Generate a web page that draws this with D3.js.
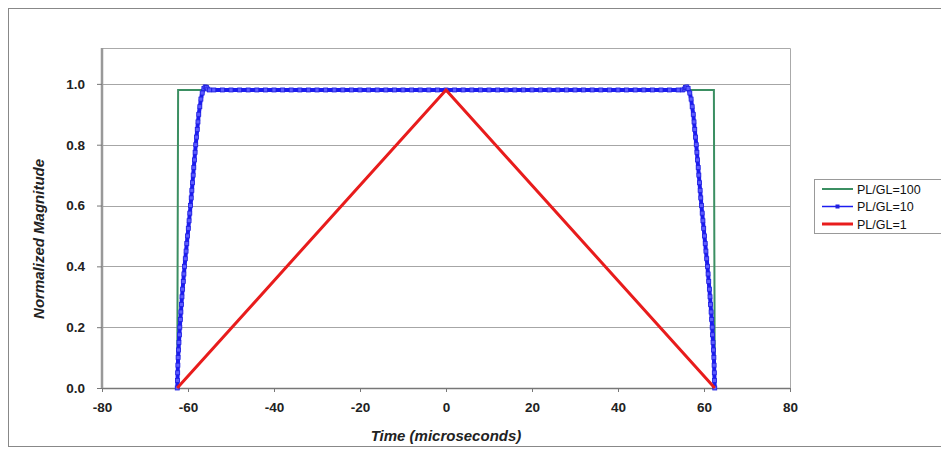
<!DOCTYPE html>
<html><head><meta charset="utf-8">
<script src="https://cdn.jsdelivr.net/npm/d3@7/dist/d3.min.js"></script>
<style>html,body{margin:0;padding:0;background:#fff;overflow:hidden}</style>
</head><body><svg id="c" width="941" height="450"></svg>
<script>
const xTicks = [-80,-60,-40,-20,0,20,40,60,80];
const yTicks = [0.0,0.2,0.4,0.6,0.8,1.0];
const seriesNames = ["PL/GL=100","PL/GL=10","PL/GL=1"];
const greenTime = [-62.5,-62.3,62.3,62.5];
const greenValue = [0,0.98,0.98,0];
const redTime = [-62.5,0,62.5];
const redValue = [0,0.98,0];
const blueTime = [-62.5,-62.45,-62.4,-62.35,-62.3,-62.2,-62.1,-62.0,-61.9,-61.78,-61.65,-61.53,-61.4,-61.25,-61.1,-60.95,-60.8,-60.63,-60.45,-60.28,-60.1,-59.93,-59.75,-59.58,-59.4,-59.25,-59.1,-58.95,-58.8,-58.65,-58.5,-58.35,-58.2,-58.03,-57.85,-57.68,-57.5,-57.25,-57.0,-56.7,-56.3,-56.0,-55.7,-55.4,-55.0,
 -54,-52,-50,-48,-46,-44,-42,-40,-38,-36,-34,-32,-30,-28,-26,-24,-22,-20,-18,-16,-14,-12,-10,-8,-6,-4,-2,0,2,4,6,8,10,12,14,16,18,20,22,24,26,28,30,32,34,36,38,40,42,44,46,48,50,52,54,
 55.0,55.4,55.7,56.0,56.3,56.7,57.0,57.25,57.5,57.68,57.85,58.03,58.2,58.35,58.5,58.65,58.8,58.95,59.1,59.25,59.4,59.58,59.75,59.93,60.1,60.28,60.45,60.63,60.8,60.95,61.1,61.25,61.4,61.53,61.65,61.78,61.9,62.0,62.1,62.2,62.3,62.35,62.4,62.45,62.5];
const blueValue = [0,0.025,0.05,0.075,0.1,0.125,0.15,0.175,0.2,0.225,0.25,0.275,0.3,0.325,0.35,0.375,0.4,0.425,0.45,0.475,0.5,0.525,0.55,0.575,0.6,0.625,0.65,0.675,0.7,0.725,0.75,0.775,0.8,0.825,0.85,0.875,0.9,0.925,0.95,0.97,0.985,0.99,0.988,0.983,0.98,
 0.98,0.98,0.98,0.98,0.98,0.98,0.98,0.98,0.98,0.98,0.98,0.98,0.98,0.98,0.98,0.98,0.98,0.98,0.98,0.98,0.98,0.98,0.98,0.98,0.98,0.98,0.98,0.98,0.98,0.98,0.98,0.98,0.98,0.98,0.98,0.98,0.98,0.98,0.98,0.98,0.98,0.98,0.98,0.98,0.98,0.98,0.98,0.98,0.98,0.98,0.98,0.98,0.98,0.98,0.98,
 0.98,0.983,0.988,0.99,0.985,0.97,0.95,0.925,0.9,0.875,0.85,0.825,0.8,0.775,0.75,0.725,0.7,0.675,0.65,0.625,0.6,0.575,0.55,0.525,0.5,0.475,0.45,0.425,0.4,0.375,0.35,0.325,0.3,0.275,0.25,0.225,0.2,0.175,0.15,0.125,0.1,0.075,0.05,0.025,0];

const svg = d3.select("#c");
const L=102, R=790, T=48, B=388;
const x = d3.scaleLinear().domain([-80,80]).range([L,R]);
const y = d3.scaleLinear().domain([0,1.118]).range([B,T]);

// outer frame
svg.append("rect").attr("x",8.5).attr("y",8.5).attr("width",940).attr("height",438)
  .attr("fill","none").attr("stroke","#888").attr("stroke-width",1);

// plot border top/right
svg.append("path").attr("d",`M${L},${T+0.5}H${R+0.5}V${B}`).attr("fill","none").attr("stroke","#aaa").attr("stroke-width",1);

// grid
svg.append("g").selectAll("line").data(yTicks.filter(d=>d>0)).join("line")
  .attr("x1",L).attr("x2",R).attr("y1",d=>Math.round(y(d))+0.5).attr("y2",d=>Math.round(y(d))+0.5)
  .attr("stroke","#a6a6a6").attr("stroke-width",1);

// axes
const fontF = "'Liberation Sans', Arial, sans-serif";
const xAxis = svg.append("g").attr("transform",`translate(0,${B})`)
  .call(d3.axisBottom(x).tickValues(xTicks).tickSize(4).tickPadding(10).tickFormat(d=>String(d)));
const yAxis = svg.append("g").attr("transform",`translate(${L},0)`)
  .call(d3.axisLeft(y).tickValues(yTicks).tickSize(5).tickPadding(12).tickFormat(d=>d.toFixed(1)));
[xAxis,yAxis].forEach(a=>{
  a.select(".domain").attr("stroke","#777").attr("stroke-width",1.5);
  a.selectAll(".tick line").attr("stroke","#777");
  a.selectAll("text").attr("font-family",fontF).attr("font-size",13.5).attr("font-weight","bold").attr("fill","#222");
});
xAxis.select(".domain").attr("d",`M${L},0.5H${R}`);
yAxis.select(".domain").attr("d",`M0,${T}V${B}`).attr("stroke-width",2.5).attr("stroke","#999");

// titles
svg.append("text").attr("x",(L+R)/2).attr("y",441).attr("text-anchor","middle")
  .attr("font-family",fontF).attr("font-size",15).attr("font-weight","bold").attr("font-style","italic").attr("fill","#222")
  .text("Time (microseconds)");
svg.append("text").attr("transform",`translate(44,${(y(0)+y(1.0))/2+3}) rotate(-90)`).attr("text-anchor","middle")
  .attr("font-family",fontF).attr("font-size",14).attr("font-weight","bold").attr("font-style","italic").attr("fill","#222")
  .attr("textLength",160).attr("lengthAdjust","spacingAndGlyphs")
  .text("Normalized Magnitude");

const line = d3.line().x(d=>x(d[0])).y(d=>y(d[1]));
const green = greenTime.map((t,i)=>[t,greenValue[i]]);
const blue = blueTime.map((t,i)=>[t,blueValue[i]]);
const red = redTime.map((t,i)=>[t,redValue[i]]);

svg.append("path").datum(green).attr("d",line).attr("fill","none").attr("stroke","#3b8f62").attr("stroke-width",2);
svg.append("path").datum(blue).attr("d",line).attr("fill","none").attr("stroke","#1c1cf0").attr("stroke-width",4);
svg.append("g").selectAll("rect").data(blue).join("rect")
  .attr("x",d=>x(d[0])-2).attr("y",d=>y(d[1])-2).attr("width",4).attr("height",4)
  .attr("fill","#5c5cff").attr("stroke","#2020e0").attr("stroke-width",0.8);
svg.append("path").datum(red).attr("d",line).attr("fill","none").attr("stroke","#e81c1c").attr("stroke-width",3);

// legend
const lg = svg.append("g");
lg.append("rect").attr("x",814.5).attr("y",179.5).attr("width",140).attr("height",54).attr("fill","#fff").attr("stroke","#999");
const colors = ["#3b8f62","#1c1cf0","#e81c1c"];
const widths = [2,1.5,3];
seriesNames.forEach((n,i)=>{
  const yy = 189 + i*17.5;
  lg.append("line").attr("x1",822).attr("x2",853).attr("y1",yy).attr("y2",yy).attr("stroke",colors[i]).attr("stroke-width",widths[i]);
  if(i===1) lg.append("rect").attr("x",835.5).attr("y",yy-2).attr("width",4).attr("height",4).attr("fill","#2020e0");
  lg.append("text").attr("x",857).attr("y",yy+4.5).attr("font-family",fontF).attr("font-size",12.5).attr("fill","#111").text(n);
});
</script></body></html>
